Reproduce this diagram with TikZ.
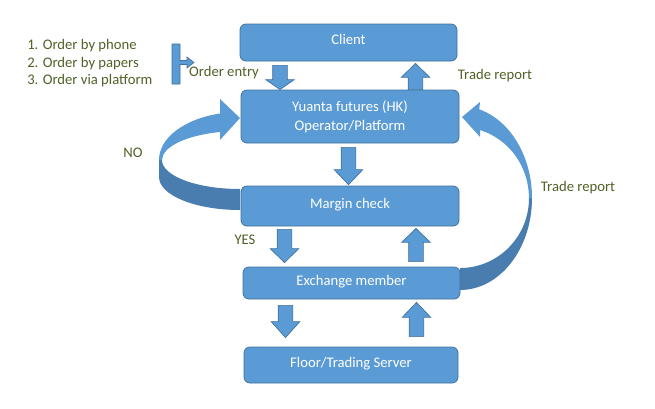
\documentclass[tikz,border=0pt]{standalone}
\usepackage{fontspec}
\setmainfont{Carlito}
\usetikzlibrary{calc, positioning}

\definecolor{boxblue}{HTML}{5B9BD5}
\definecolor{boxedge}{HTML}{41719C}
\definecolor{boxshade}{HTML}{4A7DAF}
\definecolor{notegreen}{HTML}{4F6228}

% block arrow between two boxes: x, from anchor, gap, to anchor, gap, head length (px)
\newcommand{\blockarrow}[6]{%
  \draw[blockarrow] let \p1=(#1,0 |- #2), \p2=(#1,0 |- #4),
      \n1={sign(\y2-\y1)}, \n2={\y1+\n1*#3*0.75}, \n3={\y2-\n1*#5*0.75},
      \n4={\n3-\n1*#6*0.75} in
    (\x1-5.5pt,{\n2*1pt}) -- (\x1-5.5pt,{\n4*1pt}) -- (\x1-10.75pt,{\n4*1pt})
    -- (\x1,{\n3*1pt}) -- (\x1+10.75pt,{\n4*1pt}) -- (\x1+5.5pt,{\n4*1pt})
    -- (\x1+5.5pt,{\n2*1pt}) -- cycle;}

\begin{document}
\begin{tikzpicture}[x=0.75pt, y=-0.75pt,
  every node/.style={font=\fontsize{11}{13.1}\selectfont},
  stagebox/.style={draw=boxedge, fill=boxblue, text=white, rounded corners=4.5pt,
    inner sep=0pt, align=center, line width=0.6pt},
  oneline/.style={text height=7.5pt, text depth=4.5pt},
  greennote/.style={text=notegreen, inner sep=0pt},
  blockarrow/.style={draw=boxedge, fill=boxblue, line width=0.5pt}]

\useasboundingbox (0,0) rectangle (655,408);

% NO loop (margin check back to operator)
\fill[boxshade] (162,160) arc[start angle=180, end angle=90, x radius=78, y radius=29]
  -- (240,210) arc[start angle=90, end angle=180, x radius=81, y radius=33] -- (159,160) -- cycle;
\fill[boxblue] (159,160) arc[start angle=180, end angle=255.7, x radius=81, y radius=48]
  -- (220,99) -- (240,118) -- (220,140) -- (220,132)
  arc[start angle=255.1, end angle=180, x radius=78, y radius=29] -- cycle;

% Trade report loop (exchange member back to operator)
\fill[boxshade] (532,198) arc[start angle=0, end angle=90, x radius=72, y radius=92]
  -- (460,268) arc[start angle=90, end angle=0, x radius=69, y radius=70] -- cycle;
\fill[boxblue] (532,198) arc[start angle=0, end angle=-74.5, x radius=72, y radius=92]
  -- (480,102) -- (462,117) -- (480,137) -- (480,130)
  arc[start angle=-73.1, end angle=0, x radius=69, y radius=71] -- cycle;

% Boxes
\node[stagebox, oneline, minimum width=162.75pt, minimum height=27.75pt] (client) at (348.5,42.5) {Client};
\node[stagebox, minimum width=163.5pt, minimum height=39.75pt,
  font=\fontsize{11}{14.3}\selectfont] (yuanta) at (350,116.5) {Yuanta futures (HK)\\Operator/Platform};
\node[stagebox, oneline, minimum width=163.5pt, minimum height=30pt] (margin) at (350,206) {Margin check};
\node[stagebox, oneline, minimum width=162.75pt, minimum height=24pt] (exchange) at (351.5,283) {Exchange member};
\node[stagebox, oneline, minimum width=160.5pt, minimum height=27pt] (floor) at (351,365) {Floor/Trading Server};

% Block arrows
\blockarrow{280}{client.south}{4}{yuanta.north}{0}{10}
\blockarrow{415.5}{yuanta.north}{0}{client.south}{2}{14}
\blockarrow{348.5}{yuanta.south}{4}{margin.north}{1}{15}
\blockarrow{284.5}{margin.south}{3}{exchange.north}{4}{14}
\blockarrow{416}{exchange.north}{5}{margin.south}{2}{14}
\blockarrow{285.5}{exchange.south}{6}{floor.north}{9}{16}
\blockarrow{416.5}{floor.north}{10}{exchange.south}{3}{15}

% Order types with bracket
\node[greennote, align=left, anchor=west] (orders) at (27,63.5)
  {1. Order by phone\\2. Order by papers\\3. Order via platform};
\draw[blockarrow] (172,44) -- (180,44) -- (180,60.5) -- (187,60.5) -- (187,57) -- (194,62.5)
  -- (187,68) -- (187,64.5) -- (180,64.5) -- (180,84) -- (172,84) -- cycle;

% Labels
\node[greennote] (entry) at (224,73) {Order entry};
\node[greennote] (report) at (495,76) {Trade report};
\node[greennote] (report2) at (578,188) {Trade report};
\node[greennote] (no) at (133,153) {NO};
\node[greennote] (yes) at (245,240) {YES};

\end{tikzpicture}
\end{document}
